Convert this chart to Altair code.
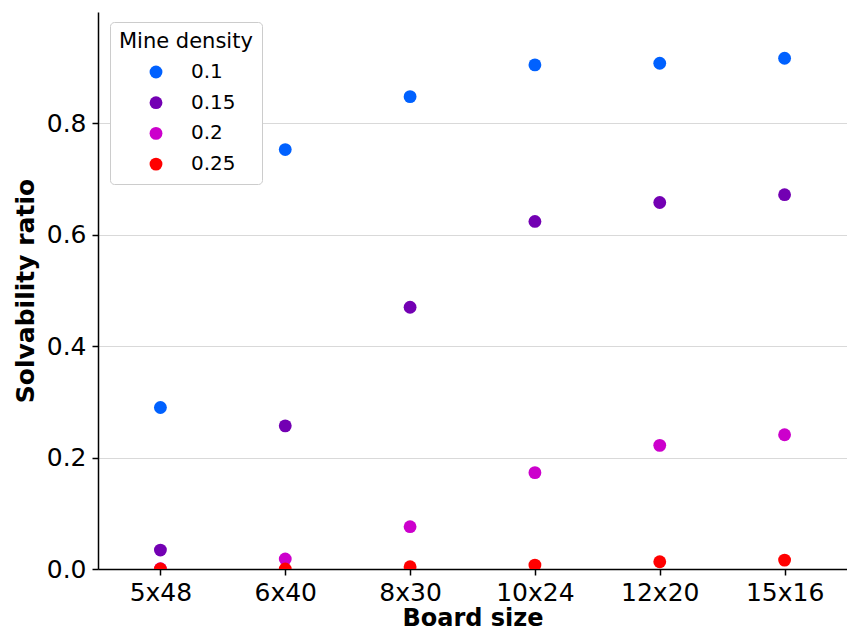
import altair as alt
import pandas as pd

boards = ["5x48", "6x40", "8x30", "10x24", "12x20", "15x16"]
densities = ["0.1", "0.15", "0.2", "0.25"]
d01 = [0.290, 0.753, 0.848, 0.905, 0.908, 0.917]
d015 = [0.034, 0.257, 0.470, 0.624, 0.658, 0.672]
d02 = [0.0005, 0.018, 0.076, 0.173, 0.222, 0.241]
d025 = [0.0, 0.0, 0.004, 0.007, 0.013, 0.016]
colors = ["#0061ff", "#7300b3", "#cc00cc", "#ff0000"]

rows = []
for dens, vals in zip(densities, [d01, d015, d02, d025]):
    for b, v in zip(boards, vals):
        rows.append({"board": b, "density": dens, "ratio": v})
df = pd.DataFrame(rows)

chart = alt.Chart(df).mark_circle(size=165, opacity=1, clip=True).encode(
    x=alt.X("board:N", sort=boards, title="Board size",
            scale=alt.Scale(paddingInner=1, paddingOuter=0.5),
            axis=alt.Axis(labelAngle=0, labelFontSize=25, titleFontSize=24,
                          titleFontWeight="bold", labelPadding=5, titlePadding=1,
                          tickSize=6, grid=False)),
    y=alt.Y("ratio:Q", title="Solvability ratio",
            scale=alt.Scale(domain=[0, 1.0], nice=False),
            axis=alt.Axis(values=[0, 0.2, 0.4, 0.6, 0.8], format=".1f",
                          labelFontSize=25, titleFontSize=25, titleFontWeight="bold",
                          labelPadding=6, titlePadding=8, tickSize=6,
                          grid=True, gridColor="#d9d9d9")),
    color=alt.Color("density:N", sort=densities,
                    scale=alt.Scale(domain=densities, range=colors),
                    legend=alt.Legend(title="Mine density", orient="none",
                                      legendX=12, legendY=10,
                                      titleFontSize=21, titleFontWeight="normal",
                                      labelFontSize=20, symbolSize=165,
                                      symbolType="circle", symbolOffset=27,
                                      labelOffset=25, rowPadding=10.7,
                                      titlePadding=10, padding=9,
                                      fillColor="white", strokeColor="#cccccc",
                                      cornerRadius=4)),
    order=alt.Order("density:N"),
).properties(
    width=749, height=557,
    autosize=alt.AutoSizeParams(type="none"),
    padding={"left": 98, "top": 12, "right": 0, "bottom": 62},
).configure_view(stroke=None).configure_axis(
    domainColor="black", domainWidth=1.5, tickColor="black", tickWidth=1.5,
    labelColor="black", titleColor="black",
    labelFont="DejaVu Sans", titleFont="DejaVu Sans",
).configure_legend(
    labelFont="DejaVu Sans", titleFont="DejaVu Sans",
    labelColor="black", titleColor="black",
)

chart.save("out.html", embed_options={"renderer": "svg", "actions": False})
